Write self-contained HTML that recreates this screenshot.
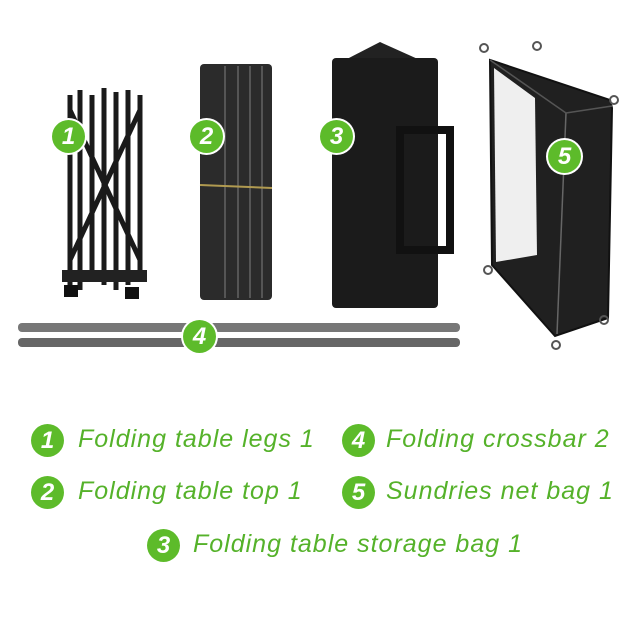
<!DOCTYPE html>
<html><head><meta charset="utf-8"><style>
body{margin:0;width:640px;height:640px;background:#fff;position:relative;overflow:hidden;font-family:"Liberation Sans",sans-serif}
.a{position:absolute}
.c{position:absolute;width:33px;height:33px;border-radius:50%;background:#5dbb2a;color:#fff;font-weight:bold;font-style:italic;font-size:24px;line-height:33px;text-align:center;box-shadow:0 0 0 2px #fff}
.t{position:absolute;color:#55b22a;font-style:italic;font-size:25px;letter-spacing:1px;white-space:nowrap}
</style></head><body>
<svg class="a" style="left:0;top:0" width="640" height="380">
<!-- legs -->
<g stroke="#1a1a1a" stroke-width="5">
<line x1="70" y1="95" x2="70" y2="285"/><line x1="80" y1="90" x2="80" y2="290"/><line x1="92" y1="95" x2="92" y2="280"/>
<line x1="104" y1="88" x2="104" y2="285"/><line x1="116" y1="92" x2="116" y2="290"/><line x1="128" y1="90" x2="128" y2="285"/><line x1="140" y1="95" x2="140" y2="280"/>
<line x1="70" y1="110" x2="140" y2="260"/><line x1="140" y1="110" x2="70" y2="260"/>
</g>
<rect x="62" y="270" width="85" height="12" fill="#222"/>
<rect x="64" y="285" width="14" height="12" fill="#111"/><rect x="125" y="287" width="14" height="12" fill="#111"/>
<!-- table top -->
<rect x="200" y="64" width="72" height="236" fill="#2b2b2b" rx="4"/>
<g stroke="#555" stroke-width="2"><line x1="225" y1="66" x2="225" y2="298"/><line x1="238" y1="66" x2="238" y2="298"/><line x1="250" y1="66" x2="250" y2="298"/><line x1="262" y1="66" x2="262" y2="298"/></g>
<line x1="200" y1="185" x2="272" y2="188" stroke="#b09a50" stroke-width="2"/>
<!-- bag -->
<path d="M345 60 L380 42 L420 60 Z" fill="#222"/>
<rect x="332" y="58" width="106" height="250" fill="#1b1b1b" rx="4"/>
<rect x="400" y="130" width="50" height="120" fill="none" stroke="#111" stroke-width="8"/>
<!-- crossbars -->
<rect x="18" y="323" width="442" height="9" fill="#777" rx="4"/>
<rect x="18" y="338" width="442" height="9" fill="#666" rx="4"/>
<!-- net bag -->
<path d="M490 60 L610 100 L612 108 L608 318 L555 336 L492 265 Z" fill="#202020" stroke="#111" stroke-width="2"/>
<path d="M494 68 L535 98 L537 255 L496 262 Z" fill="#efefef"/>
<line x1="566" y1="113" x2="557" y2="334" stroke="#666" stroke-width="1.5"/>
<line x1="490" y1="60" x2="566" y2="113" stroke="#555" stroke-width="1.5"/>
<line x1="566" y1="113" x2="612" y2="106" stroke="#555" stroke-width="1.5"/>
<g fill="none" stroke="#555" stroke-width="2"><circle cx="484" cy="48" r="4"/><circle cx="537" cy="46" r="4"/><circle cx="614" cy="100" r="4"/><circle cx="488" cy="270" r="4"/><circle cx="604" cy="320" r="4"/><circle cx="556" cy="345" r="4"/></g>
</svg>
<div class="c" style="left:52px;top:120px">1</div>
<div class="c" style="left:190px;top:120px">2</div>
<div class="c" style="left:320px;top:120px">3</div>
<div class="c" style="left:183px;top:320px">4</div>
<div class="c" style="left:548px;top:140px">5</div>
<div class="c" style="left:31px;top:424px">1</div><div class="t" style="left:78px;top:425px">Folding table legs 1</div>
<div class="c" style="left:342px;top:424px">4</div><div class="t" style="left:386px;top:425px">Folding crossbar 2</div>
<div class="c" style="left:31px;top:476px">2</div><div class="t" style="left:78px;top:477px">Folding table top 1</div>
<div class="c" style="left:342px;top:476px">5</div><div class="t" style="left:386px;top:477px">Sundries net bag 1</div>
<div class="c" style="left:147px;top:529px">3</div><div class="t" style="left:193px;top:530px">Folding table storage bag 1</div>
</body></html>
